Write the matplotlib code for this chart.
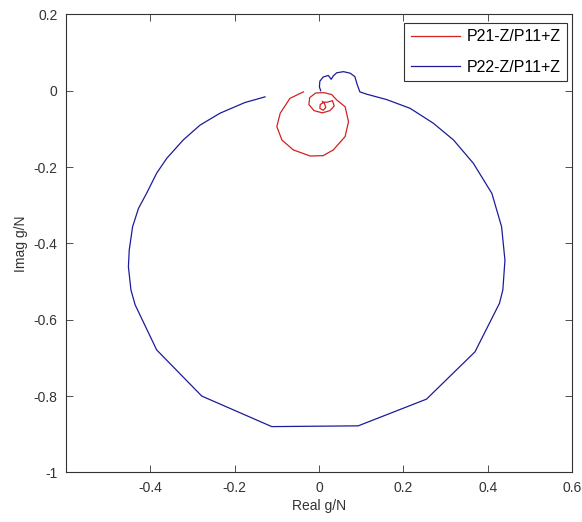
import numpy as np
import matplotlib
matplotlib.use("Agg")
import matplotlib.pyplot as plt

plt.rcParams['font.family'] = ['Liberation Sans', 'DejaVu Sans']
plt.rcParams['axes.unicode_minus'] = False

# P21-Z/P11+Z  (spiral, red)
re21 = [-0.037, -0.069, -0.092, -0.100, -0.088, -0.061, -0.021, 0.010, 0.034, 0.062, 0.070,
        0.062, 0.042, 0.030, 0.012, -0.008, -0.022, -0.024, -0.012, 0.008, 0.026, 0.036,
        0.032, 0.020, 0.012, 0.003, 0.002, 0.010, 0.016, 0.013, 0.008]
im21 = [-0.003, -0.020, -0.059, -0.094, -0.129, -0.155, -0.171, -0.170, -0.155, -0.120, -0.081,
        -0.042, -0.024, -0.010, -0.005, -0.006, -0.018, -0.036, -0.052, -0.058, -0.052, -0.040,
        -0.026, -0.030, -0.030, -0.036, -0.046, -0.051, -0.044, -0.033, -0.028]

# P22-Z/P11+Z  (big loop, blue)
re22 = [0.004, 0.001, 0.002, 0.010, 0.022, 0.029, 0.034, 0.042, 0.058, 0.074, 0.085, 0.091,
        0.097, 0.113, 0.160, 0.216, 0.271, 0.319, 0.366, 0.410, 0.433, 0.441, 0.436, 0.428,
        0.370, 0.255, 0.093, -0.112, -0.278, -0.385, -0.436, -0.446, -0.452, -0.450, -0.442,
        -0.428, -0.409, -0.385, -0.361, -0.322, -0.282, -0.235, -0.176, -0.128]
im22 = [0.000, 0.010, 0.025, 0.036, 0.040, 0.030, 0.039, 0.047, 0.050, 0.046, 0.037, 0.015,
        -0.003, -0.009, -0.023, -0.046, -0.085, -0.129, -0.190, -0.269, -0.356, -0.444, -0.522,
        -0.557, -0.684, -0.808, -0.878, -0.880, -0.800, -0.679, -0.561, -0.522, -0.461, -0.417,
        -0.356, -0.308, -0.269, -0.216, -0.177, -0.129, -0.090, -0.059, -0.031, -0.016]

xticks = [-0.4, -0.2, 0, 0.2, 0.4, 0.6]
xlabels = ['-0.4', '-0.2', '0', '0.2', '0.4', '0.6']
yticks = [-1, -0.8, -0.6, -0.4, -0.2, 0, 0.2]
ylabels = ['-1', '-0.8', '-0.6', '-0.4', '-0.2', '0', '0.2']

fig = plt.figure(figsize=(5.82, 5.22), dpi=100)
ax = fig.add_axes([0.1134, 0.095, 0.8694, 0.8774])

ax.plot(re21, im21, color='#d42020', lw=0.9, label='P21-Z/P11+Z')
ax.plot(re22, im22, color='#1c1c9a', lw=0.9, label='P22-Z/P11+Z')

ax.set_xlim(-0.6, 0.6)
ax.set_ylim(-1, 0.2)
ax.set_xticks(xticks)
ax.set_xticklabels(xlabels)
ax.set_yticks(yticks)
ax.set_yticklabels(ylabels)
ax.tick_params(direction='in', length=5, width=0.6, top=True, right=True,
               labelsize=10, colors='#333333', labelcolor='#333333', pad=6)
for s in ax.spines.values():
    s.set_linewidth(0.8)
    s.set_color('#333333')

ax.set_xlabel('Real g/N', fontsize=10, color='#333333', labelpad=3)
ax.set_ylabel('Imag g/N', fontsize=10, color='#333333', labelpad=4)

leg = ax.legend(loc='upper right', bbox_to_anchor=(0.99, 0.981), fontsize=11.5,
                handlelength=3.1, fancybox=False, edgecolor='#333333', framealpha=1,
                borderaxespad=0, borderpad=0.4, handletextpad=0.4, labelspacing=0.95)
leg.get_frame().set_linewidth(0.8)

fig.savefig('out.png', dpi=100)
